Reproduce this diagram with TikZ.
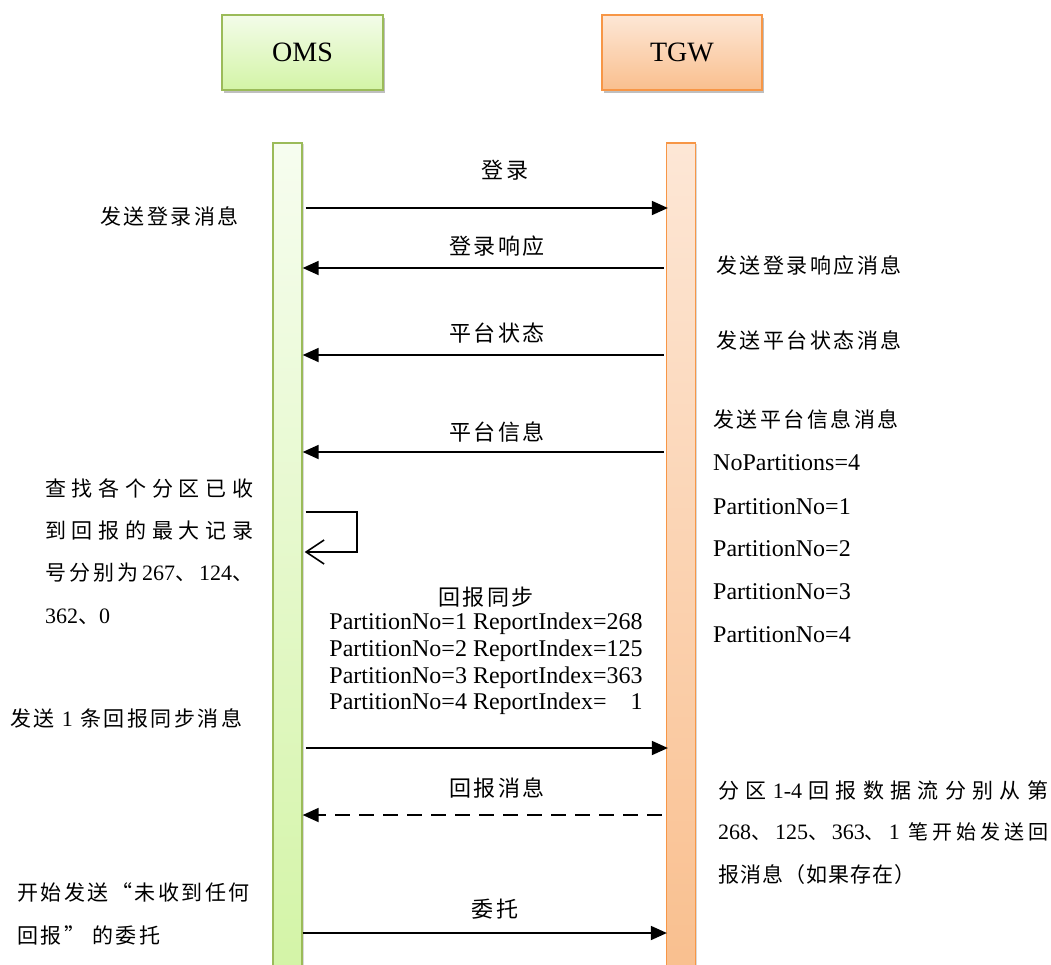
\documentclass[tikz,border=0pt]{standalone}
\usepackage{fontspec}
\setmainfont{Liberation Serif}
\newfontfamily\cjk{Noto Sans CJK SC}
\newfontfamily\cjkw{Noto Sans CJK SC}[LetterSpace=12]
\newfontfamily\cjkm{Noto Sans CJK SC}[LetterSpace=5]
\usetikzlibrary{arrows.meta,shadows}
\definecolor{omsdraw}{HTML}{9BBB59}
\definecolor{omstop}{HTML}{F3FCE9}
\definecolor{omsbot}{HTML}{D3F4A6}
\definecolor{tgwdraw}{HTML}{F79646}
\definecolor{tgwtop}{HTML}{FDE7D6}
\definecolor{tgwbot}{HTML}{F9BF8E}
\tikzset{
  actor/.style={draw, line width=1.6pt, minimum height=75pt, inner sep=0pt,
    font=\fontsize{28}{30}\selectfont,
    drop shadow={shadow xshift=1.5pt, shadow yshift=-3pt, fill=black, opacity=0.25}},
  omsbox/.style={actor, draw=omsdraw, top color=omstop, bottom color=omsbot, minimum width=161pt},
  tgwbox/.style={actor, draw=tgwdraw, top color=tgwtop, bottom color=tgwbot, minimum width=160pt},
  lifeline/.style={draw, line width=1.3pt, minimum width=29pt, minimum height=834pt, inner sep=0pt,
    drop shadow={shadow xshift=1.5pt, shadow yshift=-1pt, fill=black, opacity=0.15}},
  omsline/.style={lifeline, draw=omsdraw, top color=omstop!70!white, bottom color=omsbot},
  tgwline/.style={lifeline, draw=tgwdraw, top color=tgwtop, bottom color=tgwbot},
  msg/.style={line width=1.8pt, -{Triangle[length=16pt,width=14pt]}},
  dmsg/.style={msg, dash pattern=on 15pt off 9pt},
  lbl/.style={inner sep=0pt, font=\fontsize{22}{25}\selectfont\cjkw},
  note/.style={anchor=west, inner sep=0pt, font=\fontsize{21}{25}\selectfont\cjkw},
  jnote/.style={anchor=west, inner sep=0pt, font=\fontsize{21}{25}\selectfont\cjk},
  lat/.style={anchor=west, inner sep=0pt, font=\fontsize{24}{26}\selectfont},
}
\newcommand{\rnum}[1]{{\rmfamily\fontsize{22}{25}\selectfont #1}}
\begin{document}
\begin{tikzpicture}[x=1pt,y=-1pt]
\useasboundingbox (0,0) rectangle (1051,964);
% participants
\node[omsbox] (oms) at (302.5,52.5) {OMS};
\node[tgwbox] (tgw) at (682,52.5) {TGW};
% lifelines
\node[omsline] (omsl) at (287.5,560) {};
\node[tgwline] (tgwl) at (681,560) {};
% rows
\coordinate (r1) at (0,208);
\coordinate (r2) at (0,268);
\coordinate (r3) at (0,355);
\coordinate (r4) at (0,452);
\coordinate (l1) at (357,512);
\coordinate (l2) at (357,552);
\coordinate (r5) at (0,748);
\coordinate (r6) at (0,815);
\coordinate (r7) at (0,933);
% messages
\node[lbl] (m1) at (505,170) {登录};
\draw[msg, shorten <=3pt, shorten >=-2pt] (omsl.east |- r1) -- (tgwl.west |- r1);
\node[lbl] (m2) at (497,246) {登录响应};
\draw[msg, shorten <=2pt] (tgwl.west |- r2) -- (omsl.east |- r2);
\node[lbl] (m3) at (497,333) {平台状态};
\draw[msg, shorten <=2pt] (tgwl.west |- r3) -- (omsl.east |- r3);
\node[lbl] (m4) at (497,432) {平台信息};
\draw[msg, shorten <=2pt] (tgwl.west |- r4) -- (omsl.east |- r4);
% self loop
\draw[line width=1.8pt, -{Straight Barb[length=18pt,width=24pt,line width=1.6pt]}, shorten <=3pt, shorten >=2pt]
  (omsl.east |- l1) -- (l1) -- (l2) -- (omsl.east |- l2);
% report sync
\node[lbl] (m5) at (486,597) {回报同步};
\node[inner sep=0pt, align=left, font=\fontsize{24}{26.7}\selectfont] (m5b) at (486,664)
  {PartitionNo=1 ReportIndex=268\\
   PartitionNo=2 ReportIndex=125\\
   PartitionNo=3 ReportIndex=363\\
   PartitionNo=4 ReportIndex=\hphantom{26}1};
\draw[msg, shorten <=3pt, shorten >=-2pt] (omsl.east |- r5) -- (tgwl.west |- r5);
\node[lbl] (m6) at (497,788) {回报消息};
\draw[dmsg, shorten <=4pt] (tgwl.west |- r6) -- (omsl.east |- r6);
\node[lbl] (m7) at (495,909) {委托};
\draw[msg, shorten >=-1pt] (omsl.east |- r7) -- (tgwl.west |- r7);
% left notes
\node[note] (n1) at (100,216) {发送登录消息};
\node[jnote] (n2a) at (45,488) {\hbox to 208pt{查\hfill 找\hfill 各\hfill 个\hfill 分\hfill 区\hfill 已\hfill 收}};
\node[jnote] (n2b) at (45,530) {\hbox to 208pt{到\hfill 回\hfill 报\hfill 的\hfill 最\hfill 大\hfill 记\hfill 录}};
\node[jnote] (n2c) at (45,573) {\hbox to 208pt{号\hfill 分\hfill 别\hfill 为\hfill \rnum{267}、\hfill \rnum{124}、}};
\node[jnote] (n2d) at (45,617) {\rnum{362}、\rnum{0}};
\node[note] (n3) at (10,718) {发送 \rnum{1} 条回报同步消息};
\node[note] (n4a) at (17,892) {开始发送“未收到任何};
\node[note] (n4b) at (17,935) {回报”\ 的委托};
% right notes
\node[note] (t1) at (716,265) {发送登录响应消息};
\node[note] (t2) at (716,340) {发送平台状态消息};
\node[note] (t3) at (713,419) {发送平台信息消息};
\node[lat] (t4) at (713,463) {NoPartitions=4};
\node[lat] (t5) at (713,507) {PartitionNo=1};
\node[lat] (t6) at (713,549) {PartitionNo=2};
\node[lat] (t7) at (713,592) {PartitionNo=3};
\node[lat] (t8) at (713,635) {PartitionNo=4};
\node[jnote] (t9a) at (718,790) {\hbox to 330pt{分\hfill 区\hfill \rnum{1-4}\hfill 回\hfill 报\hfill 数\hfill 据\hfill 流\hfill 分\hfill 别\hfill 从\hfill 第}};
\node[jnote, font=\fontsize{20}{25}\selectfont\cjk] (t9b) at (718,832) {\hbox to 330pt{\rnum{268}、\hfill \rnum{125}、\hfill \rnum{363}、\hfill \rnum{1}\hspace{5pt}\hfill 笔\hfill 开\hfill 始\hfill 发\hfill 送\hfill 回}};
\node[note, font=\fontsize{21}{25}\selectfont\cjkm] (t9c) at (718,875) {报消息（如果存在）};
\end{tikzpicture}
\end{document}
